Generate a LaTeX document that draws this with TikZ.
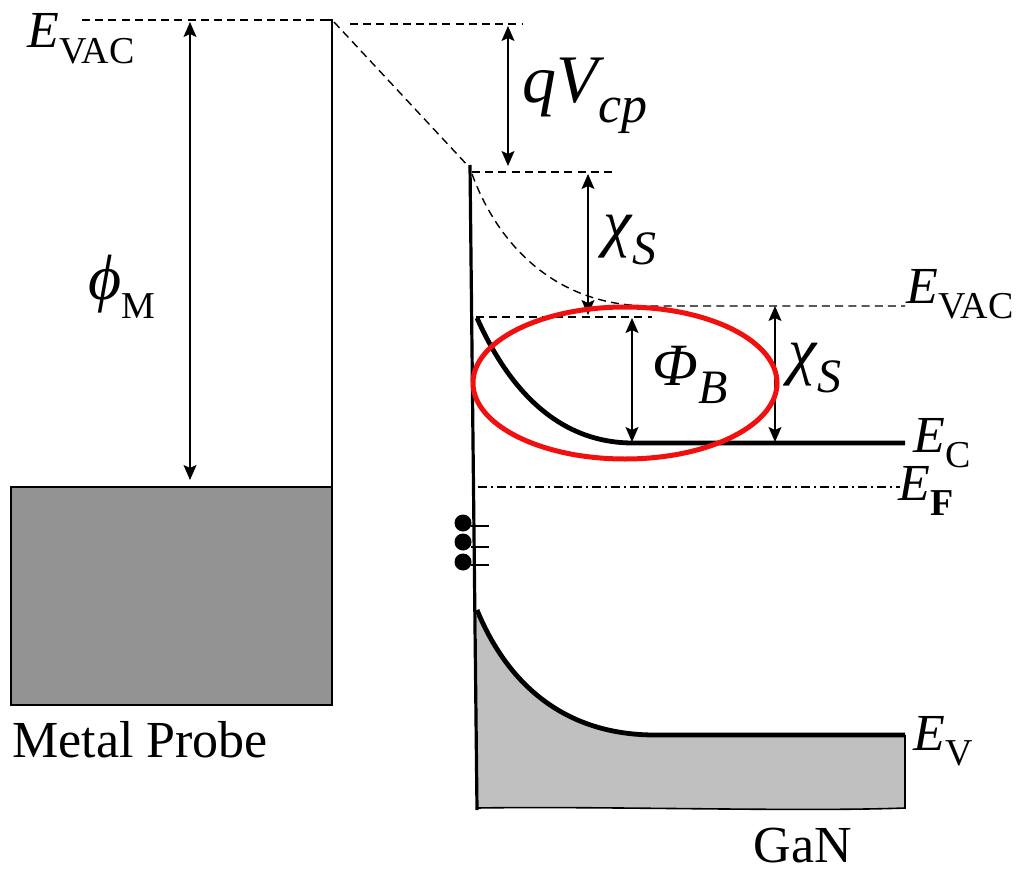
\documentclass[tikz,border=0pt]{standalone}
\usepackage{fontspec}
\setmainfont{Liberation Serif}
\newfontfamily\tnr{Liberation Serif}
\usetikzlibrary{arrows.meta}
\definecolor{metalgray}{HTML}{939393}
\definecolor{ganfill}{HTML}{C0C0C0}
\definecolor{ringred}{HTML}{F01010}
\newcommand{\myit}[1]{{\tnr\itshape #1}}
\newcommand{\myrm}[1]{{\tnr\upshape #1}}
\newcommand{\mysub}[1]{\raisebox{-0.3em}{\fontsize{19}{22}\selectfont #1}}
\tikzset{
  thinline/.style={line width=0.8pt},
  dashline/.style={line width=0.7pt, dash pattern=on 4pt off 2.6pt},
  dashdotline/.style={line width=0.7pt, dash pattern=on 4.5pt off 2pt on 1pt off 2pt},
  bandline/.style={line width=2.4pt},
  dimarrow/.style={line width=0.75pt, {Stealth[length=7.5pt,width=6.5pt,inset=1.5pt]}-{Stealth[length=7.5pt,width=6.5pt,inset=1.5pt]}},
  lbl/.style={inner sep=0pt, font=\tnr\fontsize{26}{30}\selectfont},
}
\begin{document}
\begin{tikzpicture}[x=0.5pt,y=-0.5pt]
\useasboundingbox (0,0) rectangle (1017,872);
% metal probe
\filldraw[fill=metalgray, draw=black, thinline] (11,487) rectangle (332,705);
\coordinate (mtop) at (332,20);
\coordinate (mbot) at (332,487);
\draw[thinline] (mbot) -- (mtop) -- (322,20);
% vacuum levels
\coordinate (vacL) at (82,20);
\coordinate (vacS) at (470,168);
\draw[dashline] (vacL) -- (mtop);
\draw[dashline] (334,22) -- (vacS);
\draw[dashline] (350,24) -- (522,24);
\draw[dashline] (472,172) -- (617,172);
\draw[dashline] (472,174) .. controls (500,250) and (560,306) .. (650,306) -- (905,306);
\draw[dashline] (476,317) -- (652,317);
% conduction band
\draw[bandline] (477,318) .. controls (510,392) and (560,443) .. (633,443) -- (905,443);
% Fermi level
\draw[dashdotline] (478,487) -- (900,487);
% valence band
\fill[ganfill] (477,610) .. controls (510,690) and (570,735) .. (655,735) -- (905,735) -- (905,808) .. controls (800,812) and (600,806) .. (477,808) -- cycle;
\draw[thinline] (905,735) -- (905,808) .. controls (800,812) and (600,806) .. (477,808);
\draw[bandline] (477,610) .. controls (510,690) and (570,735) .. (655,735) -- (905,735);
% surface
\coordinate (surfT) at (470,165);
\coordinate (surfB) at (477,810);
\draw[line width=1.6pt] (surfT) -- (surfB);
% surface states
\foreach \yy/\ty in {523/526, 542/547, 562/565} {
  \fill (463,\yy) circle (8.5);
  \draw[line width=1.2pt] (471,\ty) -- (489,\ty);
}
% dimension arrows
\coordinate (a1t) at (190,22); \coordinate (a1b) at (190,480);
\draw[dimarrow] (a1t) -- (a1b);
\coordinate (a2t) at (508,26); \coordinate (a2b) at (508,166);
\draw[dimarrow] (a2t) -- (a2b);
\coordinate (a3t) at (588,174); \coordinate (a3b) at (588,315);
\draw[dimarrow] (a3t) -- (a3b);
\coordinate (a4t) at (632,318); \coordinate (a4b) at (632,442);
\draw[dimarrow] (a4t) -- (a4b);
\coordinate (a5t) at (775,306); \coordinate (a5b) at (775,442);
\draw[dimarrow] (a5t) -- (a5b);
% red ring
\draw[ringred, line width=2.5pt] (625,383) ellipse (152 and 76);
% labels
\node[lbl, anchor=base west] (evacL) at (27,48) {\myit{E}\mysub{\myrm{VAC}}};
\node[lbl] (phiM) at (122,287) {\fontsize{32}{36}\selectfont\myit{ϕ}\mysub{\myrm{M}}};
\node[lbl] (qvcp) at (585,96) {\fontsize{34}{38}\selectfont\myit{qV}\mysub{\fontsize{26}{30}\selectfont\myit{cp}}};
\node[lbl] (chi1) at (630,240) {\fontsize{32}{36}\selectfont\myit{χ}\mysub{\fontsize{24}{28}\selectfont\myit{S}}};
\node[lbl, anchor=base west] (evacR) at (906,303) {\myit{E}\mysub{\myrm{VAC}}};
\node[lbl] (phiB) at (690,375) {\fontsize{30}{34}\selectfont\myit{Φ}\mysub{\fontsize{24}{28}\selectfont\myit{B}}};
\node[lbl] (chi2) at (815,368) {\fontsize{32}{36}\selectfont\myit{χ}\mysub{\fontsize{24}{28}\selectfont\myit{S}}};
\node[lbl, anchor=base west] (ec) at (913,452) {\myit{E}\mysub{\myrm{C}}};
\node[lbl, anchor=base west] (ef) at (898,500) {\myit{E}\mysub{\bfseries F}};
\node[lbl, anchor=base west] (ev) at (913,750) {\myit{E}\mysub{\myrm{V}}};
\node[lbl, anchor=base] (gan) at (803,862) {GaN};
\node[lbl, anchor=base west] (probe) at (12,757) {Metal Probe};
\end{tikzpicture}
\end{document}
